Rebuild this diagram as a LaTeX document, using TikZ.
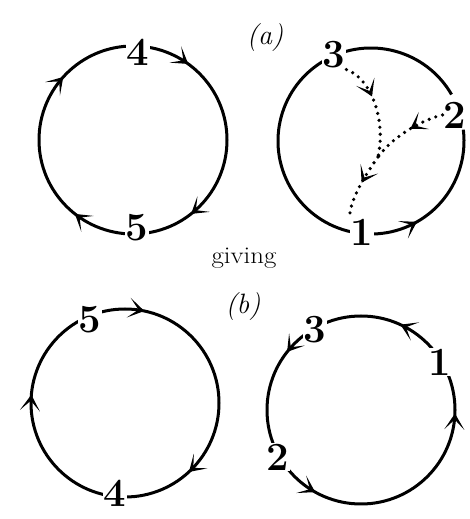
\documentclass[tikz,border=0pt]{standalone}
\usepackage{graphicx}
\usetikzlibrary{arrows.meta,decorations.markings}
\tikzset{barb/.tip={Stealth[length=16pt,width=20pt,inset=10pt]}}
\begin{document}
\begin{tikzpicture}[x=1pt,y=1pt,
  ring/.style={line width=3pt},
  num/.style={fill=white,inner sep=1pt,font=\fontsize{40}{42}\selectfont\bfseries},
  lbl/.style={inner sep=0pt,font=\fontsize{28}{30}\selectfont},
  dots/.style={line width=3.6pt,line cap=round,dash pattern=on 0pt off 7pt},
  deco/.style={postaction={decorate},decoration={markings,#1}}
]
\useasboundingbox (0,0) rectangle (470,519);

% ---------- (a) left circle: clockwise ----------
\draw[ring,deco={mark=at position 0.10 with {\arrow{barb}},
                 mark=at position 0.394 with {\arrow{barb}},
                 mark=at position 0.606 with {\arrow{barb}},
                 mark=at position 0.867 with {\arrow{barb}}}]
  (133,379) ++(90:94) arc[start angle=90,end angle=-270,radius=94];
\node[num] (a4) at (138,467) {4};
\node[num] (a5) at (137,291) {5};

% ---------- (a) right circle: counterclockwise, gap at 2 ----------
\draw[ring,deco={mark=at position 0.80 with {\arrow{barb}}}]
  (371,378) ++(30:93) arc[start angle=30,end angle=367,radius=93];
\node[num] (b3) at (334,464) {3};
\node[num,fill=none] (b2) at (455,404) {2};
\node[num] (b1) at (362,287) {1};
\coordinate (m) at (378,362);

\draw[dots,deco={mark=at position 0.38 with {\arrow{barb}}}]
  (b3.south east) .. controls (372,440) and (386,398) .. (m);
\draw[dots,deco={mark=at position 0.45 with {\arrow{barb}}}]
  (b2.west) .. controls (425,400) and (395,385) .. (m);
\draw[dots,deco={mark=at position 0.45 with {\arrow{barb}}}]
  (m) .. controls (366,345) and (350,320) .. (b1.north west);

\node[lbl] (la) at (265,481) {\itshape (a)};
\node[lbl,font=\fontsize{24}{26}\selectfont] (lg) at (244,261) {\scalebox{1.12}[1]{giving}};
\node[lbl] (lb) at (243,212) {\itshape (b)};

% ---------- (b) left circle: clockwise ----------
\draw[ring,deco={mark=at position 0.033 with {\arrow{barb}},
                 mark=at position 0.381 with {\arrow{barb}},
                 mark=at position 0.764 with {\arrow{barb}}}]
  (125,116) ++(90:94) arc[start angle=90,end angle=-270,radius=94];
\node[num] (c5) at (90,199) {5};
\node[num] (c4) at (115,26) {4};

% ---------- (b) right circle: counterclockwise ----------
\draw[ring,deco={mark=at position 0.244 with {\arrow{barb}},
                 mark=at position 0.431 with {\arrow{barb}},
                 mark=at position 0.644 with {\arrow{barb}},
                 mark=at position 0.919 with {\arrow{barb}}}]
  (361,109) ++(-90:94) arc[start angle=-90,end angle=270,radius=94];
\node[num] (d3) at (315,189) {3};
\node[num] (d1) at (440,157) {1};
\node[num] (d2) at (278,62) {2};
\end{tikzpicture}
\end{document}
